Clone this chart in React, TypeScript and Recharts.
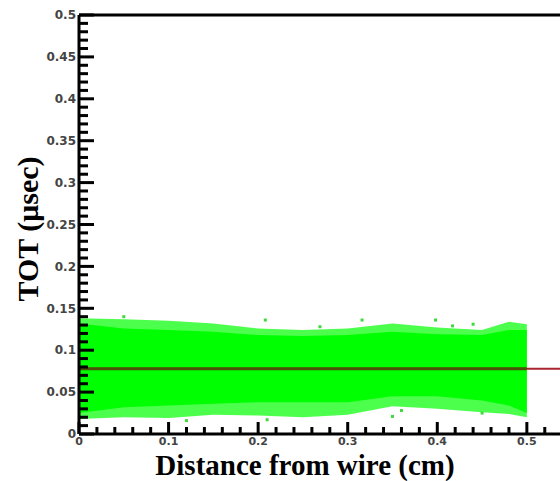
import { Area, ComposedChart, ReferenceLine, Scatter, XAxis, YAxis } from "recharts";

const distance = [0, 0.05, 0.1, 0.15, 0.2, 0.25, 0.3, 0.35, 0.4, 0.45, 0.48, 0.5];
// outer (sparse) edges of the green cloud, TOT in usec
const outerHigh = [0.138, 0.137, 0.135, 0.132, 0.126, 0.124, 0.126, 0.132, 0.127, 0.124, 0.134, 0.131];
const outerLow = [0.018, 0.02, 0.019, 0.023, 0.022, 0.02, 0.023, 0.033, 0.03, 0.026, 0.024, 0.02];
// dense core of the cloud
const coreHigh = [0.132, 0.126, 0.124, 0.122, 0.118, 0.117, 0.118, 0.122, 0.119, 0.118, 0.124, 0.124];
const coreLow = [0.025, 0.032, 0.034, 0.036, 0.038, 0.038, 0.038, 0.045, 0.045, 0.04, 0.034, 0.025];

// isolated hits outside the band
const strayX = [0.05, 0.12, 0.208, 0.21, 0.269, 0.316, 0.35, 0.36, 0.398, 0.417, 0.44, 0.45];
const strayY = [0.14, 0.016, 0.136, 0.017, 0.128, 0.136, 0.021, 0.028, 0.136, 0.129, 0.131, 0.025];

const fitValue = 0.078;

const xTicks = Array.from({ length: 27 }, (_, i) => i * 0.02);
const yTicks = Array.from({ length: 51 }, (_, i) => i * 0.01);

const band = distance.map((x, i) => ({
  x,
  outer: [outerLow[i], outerHigh[i]],
  core: [coreLow[i], coreHigh[i]],
}));
const stray = strayX.map((x, i) => ({ x, y: strayY[i] }));

const labelFont = { fontFamily: "DejaVu Sans", fontWeight: "bold", fontSize: 11, fill: "#444" } as const;
const titleFont = { fontFamily: "Liberation Serif", fontWeight: "bold", fontSize: 30, fill: "#000" } as const;

const fmt = (v: number) => String(Number(v.toFixed(2)));

function XTick({ x, y, payload }: any) {
  const v = payload.value as number;
  const major = Math.round(v * 100) % 10 === 0;
  return (
    <g>
      <line x1={x} x2={x} y1={y} y2={y - (major ? 12 : 7)} stroke="#000" strokeWidth={3} />
      {major && (
        <text x={x} y={y + 11} textAnchor="middle" {...labelFont}>
          {fmt(v)}
        </text>
      )}
    </g>
  );
}

function YTick({ x, y, payload }: any) {
  const v = payload.value as number;
  const major = Math.round(v * 100) % 5 === 0;
  return (
    <g>
      <line x1={x} x2={x + (major ? 15 : 9)} y1={y} y2={y} stroke="#000" strokeWidth={3} />
      {major && (
        <text x={x - 3} y={y} dy="0.35em" textAnchor="end" {...labelFont} fontSize={12}>
          {fmt(v)}
        </text>
      )}
    </g>
  );
}

const StrayDot = ({ cx, cy }: any) => <rect x={cx - 1.5} y={cy - 1.5} width={3} height={3} fill="#3fd83f" />;

export default function App() {
  return (
    <div style={{ position: "absolute", left: 0, top: 0, background: "#fff" }}>
      <ComposedChart width={560} height={481} data={band} margin={{ top: 15, right: 0, bottom: 0, left: 0 }}>
        <XAxis
          dataKey="x"
          type="number"
          domain={[0, 0.537]}
          allowDataOverflow
          ticks={xTicks}
          interval={0}
          height={47}
          tickSize={0}
          tickMargin={0}
          tickLine={false}
          axisLine={{ stroke: "#000", strokeWidth: 3 }}
          tick={<XTick />}
          label={{
            content: ({ viewBox }: any) => (
              <text x={viewBox.x + 226} y={viewBox.y + 41} textAnchor="middle" {...titleFont} fontSize={29}>
                Distance from wire (cm)
              </text>
            ),
          }}
        />
        <YAxis
          dataKey="y"
          type="number"
          domain={[0, 0.5]}
          allowDataOverflow
          ticks={yTicks}
          interval={0}
          width={79}
          tickSize={0}
          tickMargin={0}
          tickLine={false}
          axisLine={{ stroke: "#000", strokeWidth: 3 }}
          tick={<YTick />}
          label={{
            content: ({ viewBox }: any) => {
              const cx = 38;
              const cy = viewBox.y + 214;
              return (
                <text x={cx} y={cy} textAnchor="middle" transform={`rotate(-90, ${cx}, ${cy})`} {...titleFont}>
                  TOT (μsec)
                </text>
              );
            },
          }}
        />
        <Area dataKey="outer" type="linear" stroke="none" fill="#00ff00" fillOpacity={0.7} isAnimationActive={false} />
        <Area dataKey="core" type="linear" stroke="none" fill="#00ff00" fillOpacity={1} isAnimationActive={false} />
        <Scatter data={stray} dataKey="y" shape={<StrayDot />} isAnimationActive={false} />
        <ReferenceLine y={0.5} stroke="#000" strokeWidth={3} />
        <ReferenceLine y={fitValue} stroke="#a8242e" strokeWidth={2} />
        <ReferenceLine
          segment={[
            { x: 0, y: fitValue },
            { x: 0.5, y: fitValue },
          ]}
          stroke="#4a5208"
          strokeWidth={3}
        />
      </ComposedChart>
    </div>
  );
}
